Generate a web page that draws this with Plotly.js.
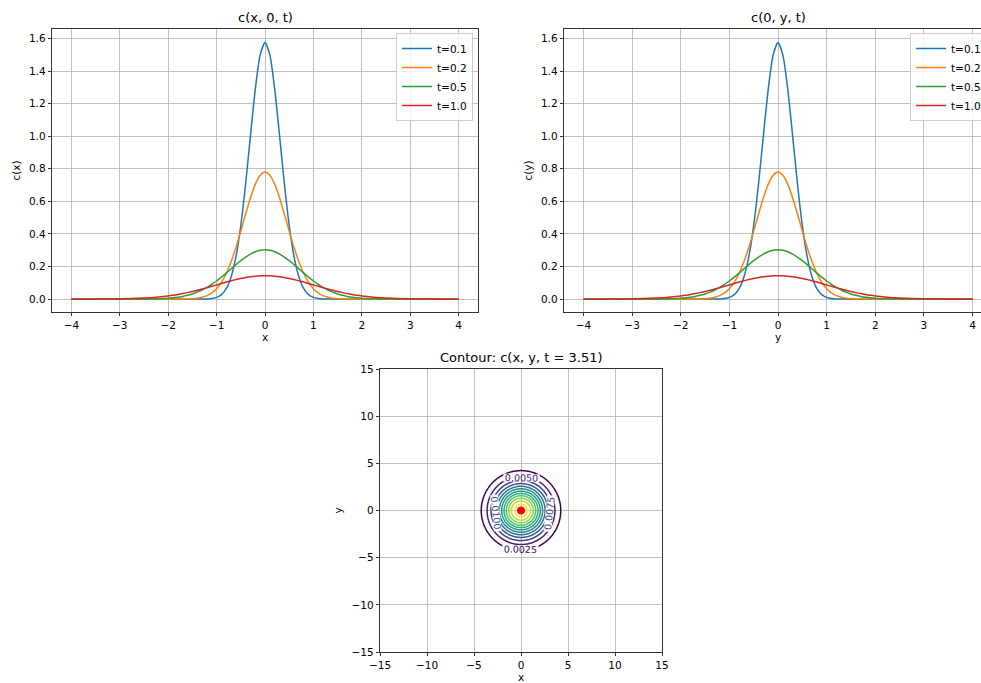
<!DOCTYPE html>
<html>
<head>
<meta charset="utf-8">
<script src="https://cdn.plot.ly/plotly-3.0.1.min.js"></script>
<style>
html,body{margin:0;padding:0;overflow:hidden;background:#fff;}
#plot{width:995px;height:683px;}
</style>
</head>
<body>
<div id="plot"></div>
<script>
// Profile positions (x for left panel, y for right panel)
const pos = [-4,-3.5,-3,
 -2.5,-2.4,-2.3,-2.2,-2.1,-2.0,-1.9,-1.8,-1.7,-1.6,-1.5,-1.4,-1.3,-1.2,-1.1,-1.0,
 -0.9,-0.8,-0.7,-0.6,-0.5,-0.4,-0.3,-0.2,-0.1,0,
 0.1,0.2,0.3,0.4,0.5,0.6,0.7,0.8,0.9,1.0,
 1.1,1.2,1.3,1.4,1.5,1.6,1.7,1.8,1.9,2.0,2.1,2.2,2.3,2.4,2.5,
 3,3.5,4];

const c_t01 = [0,0,0,
 0,0,0,0,0,0,0,0,0,0,0,0.0001,0.0003,0.0012,0.0037,0.0106,
 0.0274,0.0642,0.1360,0.2605,0.4514,0.7080,1.0047,1.2901,1.4989,1.5757,
 1.4989,1.2901,1.0047,0.7080,0.4514,0.2605,0.1360,0.0642,0.0274,0.0106,
 0.0037,0.0012,0.0003,0.0001,0,0,0,0,0,0,0,0,0,0,0,
 0,0,0];

const c_t02 = [0,0,0,
 0,0,0,0,0,0,0.0001,0.0002,0.0006,0.0013,0.0028,0.0058,0.0114,0.0213,0.0379,0.0640,
 0.1030,0.1575,0.2291,0.3171,0.4175,0.5228,0.6228,0.7058,0.7607,0.7800,
 0.7607,0.7058,0.6228,0.5228,0.4175,0.3171,0.2291,0.1575,0.1030,0.0640,
 0.0379,0.0213,0.0114,0.0058,0.0028,0.0013,0.0006,0.0002,0.0001,0,0,0,0,0,0,
 0,0,0];

const c_t05 = [0,0,0,
 0.0006,0.0010,0.0015,0.0024,0.0037,0.0055,0.0082,0.0119,0.0168,0.0234,0.0319,0.0427,0.0559,0.0717,0.0903,0.1114,
 0.1347,0.1597,0.1855,0.2113,0.2358,0.2580,0.2767,0.2909,0.2998,0.3028,
 0.2998,0.2909,0.2767,0.2580,0.2358,0.2113,0.1855,0.1597,0.1347,0.1114,
 0.0903,0.0717,0.0559,0.0427,0.0319,0.0234,0.0168,0.0119,0.0082,0.0055,0.0037,0.0024,0.0015,0.0010,0.0006,
 0,0,0];

const c_t10 = [0,0.0003,0.0016,
 0.0063,0.0081,0.0102,0.0128,0.0159,0.0195,0.0237,0.0285,0.0339,0.0400,0.0467,0.0540,0.0619,0.0701,0.0786,0.0873,
 0.0960,0.1046,0.1127,0.1203,0.1271,0.1329,0.1377,0.1411,0.1433,0.1440,
 0.1433,0.1411,0.1377,0.1329,0.1271,0.1203,0.1127,0.1046,0.0960,0.0873,
 0.0786,0.0701,0.0619,0.0540,0.0467,0.0400,0.0339,0.0285,0.0237,0.0195,0.0159,0.0128,0.0102,0.0081,0.0063,
 0.0016,0.0003,0];

const seriesNames = ['t=0.1','t=0.2','t=0.5','t=1.0'];
const seriesColors = ['#1f77b4','#ff7f0e','#2ca02c','#d62728'];
const seriesValues = [c_t01,c_t02,c_t05,c_t10];

// Radial profile of the contour field at t = 3.51 (radius, value)
const radius = [0,1,2,3,4,5,6,7,8];
const c_radial = [0.03192,0.02768,0.01805,0.008856,0.003267,0.0009067,0.0001893,0.0000297,0.0000035];
const contourLevels = {start:0.0025, end:0.030, size:0.0025};
const yTicks = [0,0.2,0.4,0.6,0.8,1.0,1.2,1.4,1.6];
const posTicks = [-4,-3,-2,-1,0,1,2,3,4];
const contourTicks = [-15,-10,-5,0,5,10,15];

// Build the contour grid from the radial profile (log-linear in r^2)
const gx = [];
for (let i = 0; i <= 160; i++) gx.push(-8 + i*0.1);
function radialValue(r){
  if (r >= radius[radius.length-1]) return 0;
  let k = 0;
  while (radius[k+1] < r) k++;
  const r0 = radius[k]*radius[k], r1 = radius[k+1]*radius[k+1];
  const f = (r*r - r0)/(r1 - r0);
  return Math.exp(Math.log(c_radial[k])*(1-f) + Math.log(c_radial[k+1])*f);
}
const gz = gx.map(yy => gx.map(xx => radialValue(Math.sqrt(xx*xx+yy*yy))));

const traces = [];
seriesValues.forEach((vals, i) => {
  traces.push({x:pos, y:vals, type:'scatter', mode:'lines', name:seriesNames[i],
    line:{color:seriesColors[i], width:1.5, shape:'spline', smoothing:0.6},
    xaxis:'x', yaxis:'y', legend:'legend', hoverinfo:'skip'});
});
seriesValues.forEach((vals, i) => {
  traces.push({x:pos, y:vals, type:'scatter', mode:'lines', name:seriesNames[i],
    line:{color:seriesColors[i], width:1.5, shape:'spline', smoothing:0.6},
    xaxis:'x2', yaxis:'y2', legend:'legend2', hoverinfo:'skip'});
});
traces.push({type:'contour', x:gx, y:gx, z:gz, xaxis:'x3', yaxis:'y3',
  colorscale:'Viridis', zmin:contourLevels.start, zmax:contourLevels.end,
  autocontour:false, contours:{start:contourLevels.start, end:contourLevels.end, size:contourLevels.size,
    coloring:'lines', showlabels:true, labelformat:'.4f', labelfont:{size:9.5, family:'DejaVu Sans'}},
  line:{width:1.5}, showscale:false, showlegend:false, hoverinfo:'skip'});
traces.push({x:[0], y:[0], type:'scatter', mode:'markers', marker:{color:'red', size:8},
  xaxis:'x3', yaxis:'y3', showlegend:false, hoverinfo:'skip'});

const W = 995, H = 683;
const FS = 10.5, TS = 13;
const font = {family:'DejaVu Sans', size:FS, color:'#000'};
function axisBase(extra){
  return Object.assign({showgrid:true, gridcolor:'#b0b0b0', gridwidth:0.8, zeroline:false,
    showline:true, linecolor:'#000', linewidth:0.8, mirror:true,
    ticks:'outside', ticklen:3.5, tickwidth:0.8, tickcolor:'#000',
    tickfont:{family:'DejaVu Sans', size:FS, color:'#000'}, fixedrange:true}, extra);
}
function dom(a,b,tot){ return [a/tot, b/tot]; }
function ydom(top,bot){ return [1-bot/H, 1-top/H]; }

const layout = {
  width:W, height:H, margin:{l:0,r:0,t:0,b:0}, paper_bgcolor:'#fff', plot_bgcolor:'#fff',
  font:font, showlegend:true,
  xaxis: axisBase({domain:dom(52,478,W), range:[-4.4,4.4], tickvals:posTicks, anchor:'y',
    title:{text:'x', font:{size:FS}, standoff:3}}),
  yaxis: axisBase({domain:ydom(29,312), range:[-0.079,1.658], tickvals:yTicks, tickformat:'.1f', anchor:'x',
    title:{text:'c(x)', font:{size:FS}, standoff:6}}),
  xaxis2: axisBase({domain:dom(564,992,W), range:[-4.4,4.4], tickvals:posTicks, anchor:'y2',
    title:{text:'y', font:{size:FS}, standoff:3}}),
  yaxis2: axisBase({domain:ydom(29,312), range:[-0.079,1.658], tickvals:yTicks, tickformat:'.1f', anchor:'x2',
    title:{text:'c(y)', font:{size:FS}, standoff:6}}),
  xaxis3: axisBase({domain:dom(380,662,W), range:[-15,15], tickvals:contourTicks, anchor:'y3',
    title:{text:'x', font:{size:FS}, standoff:3}}),
  yaxis3: axisBase({domain:ydom(369,652), range:[-15,15], tickvals:contourTicks, anchor:'x3',
    title:{text:'y', font:{size:FS}, standoff:6}}),
  legend:{x:473/W, y:1-33/H, xanchor:'right', yanchor:'top', bgcolor:'rgba(255,255,255,0.8)',
    bordercolor:'#cccccc', borderwidth:1, font:{family:'DejaVu Sans', size:FS, color:'#000'},
    itemwidth:30, tracegroupgap:0},
  legend2:{x:987/W, y:1-33/H, xanchor:'right', yanchor:'top', bgcolor:'rgba(255,255,255,0.8)',
    bordercolor:'#cccccc', borderwidth:1, font:{family:'DejaVu Sans', size:FS, color:'#000'},
    itemwidth:30, tracegroupgap:0},
  annotations:[
    {text:'c(x, 0, t)', x:265/W, y:1-17/H, xref:'paper', yref:'paper', showarrow:false,
      font:{family:'DejaVu Sans', size:TS, color:'#000'}, xanchor:'center', yanchor:'middle'},
    {text:'c(0, y, t)', x:778/W, y:1-17/H, xref:'paper', yref:'paper', showarrow:false,
      font:{family:'DejaVu Sans', size:TS, color:'#000'}, xanchor:'center', yanchor:'middle'},
    {text:'Contour: c(x, y, t = 3.51)', x:521/W, y:1-357/H, xref:'paper', yref:'paper', showarrow:false,
      font:{family:'DejaVu Sans', size:TS, color:'#000'}, xanchor:'center', yanchor:'middle'}
  ]
};

Plotly.newPlot('plot', traces, layout, {staticPlot:true, displayModeBar:false});
</script>
</body>
</html>
